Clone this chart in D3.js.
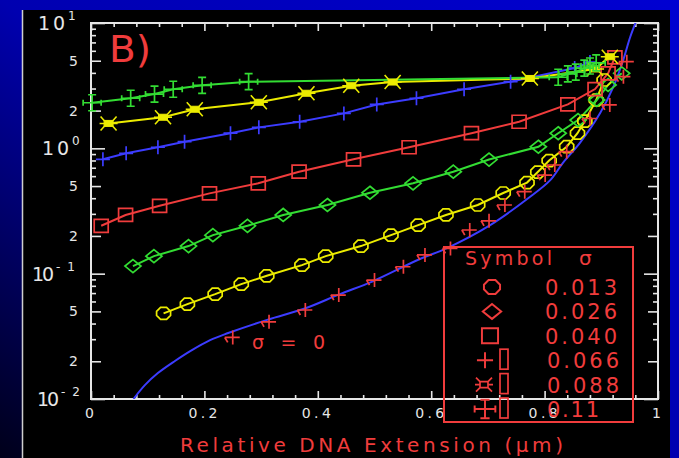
<!DOCTYPE html>
<html><head><meta charset="utf-8">
<script src="https://cdn.jsdelivr.net/npm/d3@7"></script>
<style>html,body{margin:0;padding:0;background:#000;overflow:hidden}svg{display:block}</style>
</head><body>
<svg id="chart" width="679" height="458"></svg>
<script>
// ---------- data ----------
const xTickValues = [0, 0.2, 0.4, 0.6, 0.8, 1];
const xTickLabels = ["0", "0.2", "0.4", "0.6", "0.8", "1"];
const yDecades = [0.01, 0.1, 1, 10];
const yDecadeExp = ["-2", "-1", "0", "1"];
const yMinorLabelled = [0.02, 0.05, 0.2, 0.5, 2, 5];
const yMinorLabels = ["2", "5", "2", "5", "2", "5"];

const legendSigmas = ["0.013", "0.026", "0.040", "0.066", "0.088", "0.11"];

// sigma = 0.11 (green, error bars)
const s011X = [0.002, 0.070, 0.112, 0.145, 0.196, 0.278, 0.824, 0.841, 0.855, 0.870, 0.880, 0.891];
const s011Y = [2.31, 2.51, 2.71, 2.96, 3.18, 3.40, 3.69, 3.92, 4.06, 4.37, 4.54, 4.80];
// sigma = 0.088 (yellow, bow-tie)
const s088X = [0.031, 0.127, 0.183, 0.296, 0.380, 0.459, 0.532, 0.774, 0.889, 0.915];
const s088Y = [1.58, 1.77, 2.05, 2.33, 2.75, 3.16, 3.38, 3.61, 4.30, 5.38];
// sigma = 0.066 (blue, plus)
const s066X = [0.021, 0.062, 0.118, 0.165, 0.246, 0.296, 0.368, 0.446, 0.504, 0.574, 0.658, 0.740, 0.853, 0.880];
const s066Y = [0.817, 0.912, 1.02, 1.13, 1.32, 1.47, 1.63, 1.90, 2.24, 2.51, 2.96, 3.40, 4.37, 4.88];
// sigma = 0.040 (red, squares)
const s040X = [0.018, 0.061, 0.121, 0.209, 0.295, 0.367, 0.463, 0.561, 0.671, 0.755, 0.841, 0.889, 0.912, 0.924];
const s040Y = [0.241, 0.294, 0.348, 0.437, 0.526, 0.651, 0.817, 1.02, 1.32, 1.63, 2.24, 2.97, 3.97, 5.32];
// sigma = 0.026 (green, diamonds)
const s026X = [0.074, 0.111, 0.172, 0.215, 0.276, 0.339, 0.417, 0.492, 0.568, 0.639, 0.702, 0.789, 0.824, 0.859, 0.892, 0.912, 0.936];
const s026Y = [0.115, 0.138, 0.166, 0.203, 0.241, 0.294, 0.353, 0.442, 0.526, 0.651, 0.814, 1.03, 1.32, 1.68, 2.43, 3.20, 3.97];
// sigma = 0.013 (yellow, circles)
const s013X = [0.128, 0.170, 0.219, 0.265, 0.310, 0.372, 0.414, 0.476, 0.529, 0.577, 0.626, 0.682, 0.727, 0.769, 0.788, 0.808, 0.839, 0.858, 0.871, 0.891, 0.905];
const s013Y = [0.0482, 0.0572, 0.0687, 0.0826, 0.0962, 0.117, 0.138, 0.166, 0.203, 0.244, 0.294, 0.353, 0.440, 0.533, 0.647, 0.799, 1.03, 1.32, 1.65, 2.43, 3.51];
// sigma = 0 (red, plus, no line)
const s0X = [0.250, 0.314, 0.378, 0.437, 0.500, 0.551, 0.589, 0.634, 0.668, 0.702, 0.730, 0.765, 0.801, 0.818, 0.839, 0.880, 0.915, 0.939, 0.945];
const s0Y = [0.0310, 0.0413, 0.0513, 0.0675, 0.0889, 0.1136, 0.141, 0.159, 0.223, 0.264, 0.353, 0.451, 0.612, 0.736, 0.940, 1.73, 2.22, 3.73, 4.91];
// theoretical curve (blue)
const curveX = [0.075, 0.095, 0.118, 0.148, 0.175, 0.210, 0.242, 0.312, 0.377, 0.439, 0.496, 0.580, 0.628, 0.704, 0.771, 0.810, 0.832, 0.862, 0.898, 0.921, 0.937, 0.951, 0.961];
const curveY = [0.0100, 0.0129, 0.0161, 0.0201, 0.0241, 0.0295, 0.0336, 0.0430, 0.0527, 0.0687, 0.0865, 0.131, 0.160, 0.244, 0.400, 0.558, 0.763, 1.10, 1.91, 3.08, 4.80, 7.73, 10.2];

// ---------- styles ----------
const RED = "#f03c3c", GREEN = "#33dd33", YELLOW = "#ecec00", BLUE = "#3c3cff", AXIS = "#e6e6e6";
const FONT = "'DejaVu Sans', 'Liberation Sans', sans-serif";

const MK = {
  circle: "M-3,-6L3,-6L7,-2L7,2L3,6L-3,6L-7,2L-7,-2Z",
  diamond: "M0,-6.5L8,0L0,6.5L-8,0Z",
  square: "M-7,-6.5H7V6.5H-7Z",
  plus: "M-7,0H7M0,-7V7",
  bowLegs: "M-4,-2.5L-8,-7M4,-2.5L8,-7M-4,2.5L-8,7M4,2.5L8,7M-9,0H9",
  bowBody: "M-4.5,-3H4.5V3H-4.5Z",
  err: "M0,-8V8M-4,-8H4M-4,8H4M-9,0H9M-9,-3V3M9,-3V3",
  plus0: "M-8,0H7M0,-7V7M-8,0Q-6,3-5,5"
};

const svg = d3.select("#chart");
const defs = svg.append("defs");
const grad = defs.append("linearGradient").attr("id", "bg")
  .attr("x1", "1").attr("y1", "0").attr("x2", "0").attr("y2", "1");
grad.append("stop").attr("offset", "0").attr("stop-color", "#0000d2");
grad.append("stop").attr("offset", "0.5").attr("stop-color", "#0000b0");
grad.append("stop").attr("offset", "1").attr("stop-color", "#00001a");
svg.append("rect").attr("width", 679).attr("height", 458).attr("fill", "url(#bg)");
svg.append("rect").attr("x", 22).attr("y", 10).attr("width", 648).attr("height", 448).attr("fill", "#000");
svg.append("line").attr("x1", 22.5).attr("x2", 22.5).attr("y1", 10).attr("y2", 458).attr("stroke", "#cfcfcf").attr("stroke-width", 1.5);

const X0 = 91, X1 = 658, Y0 = 399, Y1 = 23;
const x = d3.scaleLinear().domain([0, 1]).range([X0, X1]);
const y = d3.scaleLog().domain([0.01, 10]).range([Y0, Y1]);

defs.append("clipPath").attr("id", "plotclip").append("rect")
  .attr("x", X0).attr("y", Y1).attr("width", X1 - X0).attr("height", Y0 - Y1);

// ---------- axes (ticks) ----------
const xMinor = d3.range(0, 1.0001, 0.04).filter(v => Math.abs(v / 0.2 - Math.round(v / 0.2)) > 1e-6);
function styleAxis(g) {
  g.select(".domain").remove();
  g.selectAll("line").attr("stroke", AXIS).attr("stroke-width", 1.6);
}
svg.append("g").attr("transform", `translate(0,${Y0})`)
  .call(d3.axisBottom(x).tickValues(xMinor).tickSize(-4).tickFormat("")).call(styleAxis);
svg.append("g").attr("transform", `translate(0,${Y1})`)
  .call(d3.axisTop(x).tickValues(xMinor).tickSize(-4).tickFormat("")).call(styleAxis);
const xb = svg.append("g").attr("transform", `translate(0,${Y0})`)
  .call(d3.axisBottom(x).tickValues(xTickValues).tickSize(-8).tickPadding(9)
    .tickFormat((d, i) => xTickLabels[i])).call(styleAxis);
xb.selectAll("text").attr("fill", AXIS).attr("font-family", FONT).attr("font-size", 14)
  .attr("dx", -2).each(function (d, i) {
    if (xTickLabels[i].length > 1) d3.select(this).attr("textLength", 29).attr("lengthAdjust", "spacing");
  });
svg.append("g").attr("transform", `translate(0,${Y1})`)
  .call(d3.axisTop(x).tickValues(xTickValues).tickSize(-8).tickFormat("")).call(styleAxis);

const yAll = [];
for (let e = -2; e < 1; e++) for (let m = 2; m <= 9; m++) yAll.push(m * Math.pow(10, e));
const yLong = yAll.filter(v => yMinorLabelled.some(w => Math.abs(w - v) / w < 1e-6));
const yShort = yAll.filter(v => !yLong.includes(v));
[[d3.axisLeft, X0], [d3.axisRight, X1]].forEach(([ax, pos]) => {
  svg.append("g").attr("transform", `translate(${pos},0)`)
    .call(ax(y).tickValues(yShort).tickSize(-5).tickFormat("")).call(styleAxis);
  svg.append("g").attr("transform", `translate(${pos},0)`)
    .call(ax(y).tickValues(yLong).tickSize(-10).tickFormat("")).call(styleAxis);
  svg.append("g").attr("transform", `translate(${pos},0)`)
    .call(ax(y).tickValues(yDecades).tickSize(-14).tickFormat("")).call(styleAxis);
});

// frame
svg.append("rect").attr("x", X0).attr("y", Y1).attr("width", X1 - X0).attr("height", Y0 - Y1)
  .attr("fill", "none").attr("stroke", AXIS).attr("stroke-width", 2);

// y labels
const yl = svg.append("g").attr("font-family", FONT).attr("fill", AXIS);
yMinorLabelled.forEach((v, i) => {
  yl.append("text").attr("x", 78).attr("y", y(v)).attr("dy", "0.36em")
    .attr("text-anchor", "end").attr("font-size", 14).text(yMinorLabels[i]);
});
const expStart = {"-2": 61, "-1": 56, "0": 72, "1": 68};
yDecades.forEach((v, i) => {
  const e = yDecadeExp[i];
  const xs = expStart[e];
  const neg = e.startsWith("-");
  yl.append("text").attr("x", xs - 2 - (neg ? 22 : 28)).attr("y", y(v) + 7)
    .attr("font-size", 19).attr("textLength", neg ? 22 : 27).attr("lengthAdjust", "spacing").text("10");
  const et = yl.append("text").attr("x", xs).attr("y", y(v) - 3).attr("font-size", 12).text(e);
  if (neg) et.attr("textLength", 19).attr("lengthAdjust", "spacing");
});

// ---------- plot ----------
const plot = svg.append("g").attr("clip-path", "url(#plotclip)");
const line = d3.line().x(d => x(d[0])).y(d => y(d[1]));
const zip = (a, b) => a.map((v, i) => [v, b[i]]);

// theoretical curve
plot.append("path").datum(zip(curveX, curveY))
  .attr("d", d3.line().x(d => x(d[0])).y(d => y(d[1])).curve(d3.curveCatmullRom.alpha(0.5)))
  .attr("fill", "none").attr("stroke", BLUE).attr("stroke-width", 2);

const series = [
  {xs: s013X, ys: s013Y, color: YELLOW, mk: "circle"},
  {xs: s026X, ys: s026Y, color: GREEN, mk: "diamond"},
  {xs: s040X, ys: s040Y, color: RED, mk: "square"},
  {xs: s066X, ys: s066Y, color: BLUE, mk: "plus"},
  {xs: s088X, ys: s088Y, color: YELLOW, mk: "bow"},
  {xs: s011X, ys: s011Y, color: GREEN, mk: "err"}
];

function drawMarker(g, kind, color, sc) {
  sc = sc || 1;
  if (kind === "bow") {
    g.append("path").attr("d", MK.bowLegs).attr("stroke", color).attr("stroke-width", 1.6).attr("fill", "none").attr("transform", `scale(${sc})`);
    g.append("path").attr("d", MK.bowBody).attr("fill", color).attr("stroke", color).attr("transform", `scale(${sc})`);
  } else {
    g.append("path").attr("d", MK[kind]).attr("fill", "none").attr("stroke", color)
      .attr("stroke-width", 1.7).attr("transform", `scale(${sc})`);
  }
}

series.forEach(s => {
  const pts = zip(s.xs, s.ys);
  plot.append("path").datum(pts).attr("d", line)
    .attr("fill", "none").attr("stroke", s.color).attr("stroke-width", 2);
});
series.forEach(s => {
  zip(s.xs, s.ys).forEach(p => {
    const g = svg.append("g").attr("transform", `translate(${x(p[0])},${y(p[1])})`);
    drawMarker(g, s.mk, s.color);
  });
});
zip(s0X, s0Y).forEach(p => {
  const g = svg.append("g").attr("transform", `translate(${x(p[0])},${y(p[1])})`);
  drawMarker(g, "plus0", RED);
});

// ---------- annotations ----------
svg.append("text").attr("x", 109).attr("y", 62).attr("fill", RED).attr("font-family", FONT)
  .attr("font-size", 38).attr("textLength", 42).attr("lengthAdjust", "spacingAndGlyphs").text("B)");
svg.append("text").attr("x", 252).attr("y", 349).attr("fill", RED).attr("font-family", FONT)
  .attr("font-size", 19).attr("textLength", 73).attr("lengthAdjust", "spacing").text("σ = 0");
svg.append("text").attr("x", 180).attr("y", 452).attr("fill", RED).attr("font-family", FONT)
  .attr("font-size", 20).attr("textLength", 383).attr("lengthAdjust", "spacing").text("Relative DNA Extension (μm)");

// ---------- legend ----------
const lg = svg.append("g");
lg.append("rect").attr("x", 444).attr("y", 247).attr("width", 189).attr("height", 175)
  .attr("fill", "none").attr("stroke", RED).attr("stroke-width", 2);
lg.append("text").attr("x", 465).attr("y", 265).attr("fill", RED).attr("font-family", FONT)
  .attr("font-size", 19).attr("textLength", 87).attr("lengthAdjust", "spacing").text("Symbol");
lg.append("text").attr("x", 579).attr("y", 265).attr("fill", RED).attr("font-family", FONT)
  .attr("font-size", 20).text("σ");
const legMk = ["circle", "diamond", "square", "plus", "bowOpen", "err"];
const legMkX = [492, 492, 490, 485, 484, 485];
legendSigmas.forEach((t, i) => {
  const yy = 295 + i * 24.4;
  lg.append("text").attr("x", i >= 3 ? 547 : 545).attr("y", yy).attr("fill", RED).attr("font-family", FONT)
    .attr("font-size", 21).attr("textLength", t.length === 5 ? 72 : 52).attr("lengthAdjust", "spacing").text(t);
  const g = lg.append("g").attr("transform", `translate(${legMkX[i]},${yy - 8})`);
  if (legMk[i] === "bowOpen") {
    g.append("path").attr("d", "M-8,-7L-4,-3L-4,3L-8,7M8,-7L4,-3L4,3L8,7M-4,-3H4M-4,3H4M-9,0H-4M4,0H9")
      .attr("fill", "none").attr("stroke", RED).attr("stroke-width", 1.7);
  } else {
    drawMarker(g, legMk[i], RED, 1.15);
  }
  if (i >= 3) {
    lg.append("rect").attr("x", 500).attr("y", yy - 19).attr("width", 8).attr("height", 20)
      .attr("fill", "none").attr("stroke", RED).attr("stroke-width", 1.7);
  }
});
</script>
</body></html>
